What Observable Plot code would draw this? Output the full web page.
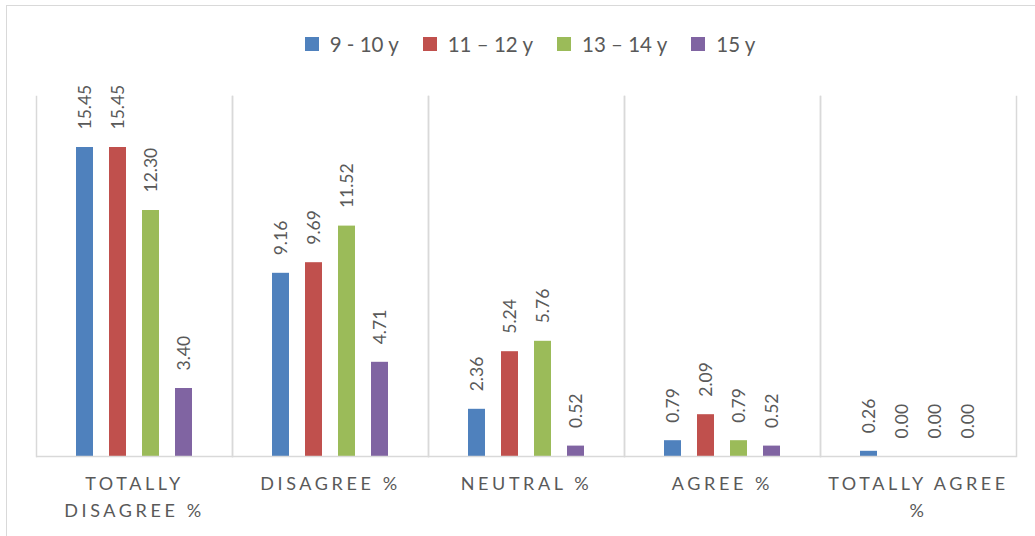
<!DOCTYPE html>
<html>
<head>
<meta charset="utf-8">
<script src="https://cdn.jsdelivr.net/npm/d3@7"></script>
<script src="https://cdn.jsdelivr.net/npm/@observablehq/plot@0.6"></script>
<style>
  html, body { margin: 0; padding: 0; background: #fff; overflow: hidden; }
  body { width: 1035px; height: 536px; position: relative; font-family: Lato, "Open Sans", sans-serif; }
  #border { position: absolute; left: 6px; top: 5px; width: 1040px; height: 545px; border: 1px solid #d9d9d9; box-sizing: border-box; }
  #legend { position: relative; height: 80px; padding-top: 8px; padding-left: 25px; box-sizing: border-box;
            display: flex; align-items: center; justify-content: center; gap: 24px; font-size: 20.5px; color: #595959; }
  #legend .item { display: flex; align-items: center; }
  #legend .sw { width: 14px; height: 14px; margin-right: 11px; }
  #chart { position: relative; }
  g[aria-label="fx-axis tick label"] text { letter-spacing: 3.6px; }
</style>
</head>
<body>
<div id="border"></div>
<div id="legend"></div>
<div id="chart"></div>
<script>
const categories = ["TOTALLY DISAGREE %", "DISAGREE %", "NEUTRAL %", "AGREE %", "TOTALLY AGREE %"];
const categoryLabels = ["TOTALLY\nDISAGREE %", "DISAGREE %", "NEUTRAL %", "AGREE %", "TOTALLY AGREE\n%"];
const series = ["9 - 10 y", "11 – 12 y", "13 – 14 y", "15 y"];
const colors = ["#4f81bd", "#c0504d", "#9bbb59", "#8064a2"];
const values9to10 = [15.45, 9.16, 2.36, 0.79, 0.26];
const values11to12 = [15.45, 9.69, 5.24, 2.09, 0.00];
const values13to14 = [12.30, 11.52, 5.76, 0.79, 0.00];
const values15 = [3.40, 4.71, 0.52, 0.52, 0.00];

const seriesValues = [values9to10, values11to12, values13to14, values15];
const data = [];
categories.forEach((c, ci) => {
  series.forEach((s, si) => data.push({cat: c, series: s, value: seriesValues[si][ci]}));
});

// legend
const legend = d3.select("#legend");
series.forEach((s, i) => {
  const it = legend.append("div").attr("class", "item");
  it.append("div").attr("class", "sw").style("background", colors[i]);
  it.append("span").text(s);
});

const labelMap = new Map(categories.map((c, i) => [c, categoryLabels[i]]));

const chart = Plot.plot({
  width: 1035,
  height: 456,
  marginTop: 16,
  marginBottom: 80,
  marginLeft: 36,
  marginRight: 19,
  style: {fontFamily: "Lato, 'Open Sans', sans-serif", background: "transparent"},
  fx: {domain: categories, paddingInner: 0, paddingOuter: 0, label: null},
  x: {domain: series, paddingInner: 0.475, paddingOuter: 1.18, axis: null},
  y: {domain: [0, 18], axis: null},
  color: {domain: series, range: colors},
  marks: [
    Plot.frame({anchor: "left", stroke: "#d9d9d9", strokeWidth: 1.5}),
    Plot.frame({anchor: "right", stroke: "#d9d9d9", strokeWidth: 1.5}),
    Plot.barY(data, {fx: "cat", x: "series", y: "value", fill: "series"}),
    Plot.ruleY([0], {stroke: "#d9d9d9", strokeWidth: 1.5}),
    Plot.text(data, {fx: "cat", x: "series", y: "value", text: d => d.value.toFixed(2),
      rotate: -90, textAnchor: "start", dy: -18, fill: "#595959", fontSize: 17.5}),
    Plot.axisFx({anchor: "bottom", tickSize: 0, tickPadding: 14, fontSize: 18, lineHeight: 1.5,
      fill: "#595959", tickFormat: d => labelMap.get(d), label: null})
  ]
});
document.getElementById("chart").appendChild(chart);
</script>
</body>
</html>
